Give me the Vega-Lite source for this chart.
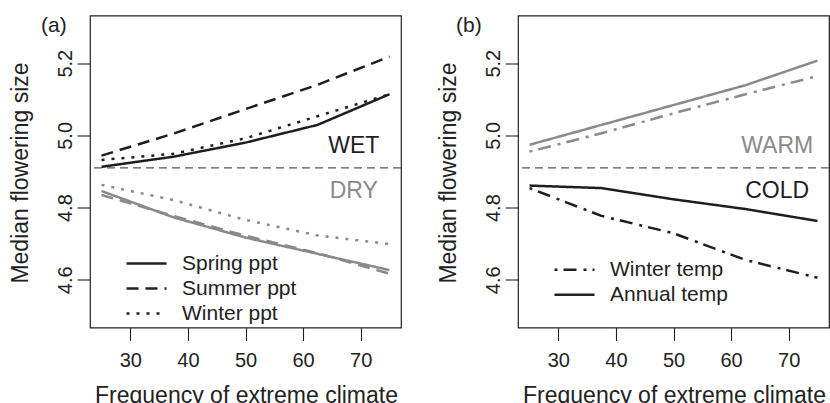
{
  "$schema": "https://vega.github.io/schema/vega-lite/v6.json",
  "padding": {"left": 8, "top": 13.5, "right": 0, "bottom": 0},
  "background": "white",
  "bounds": "flush",
  "spacing": 117,
  "config": {
    "font": "Liberation Sans",
    "view": {"stroke": "#222", "strokeWidth": 1.2},
    "axis": {
      "grid": false, "domain": false, "tickColor": "#222", "tickSize": 13, "tickWidth": 1.1,
      "labelFont": "Liberation Sans", "labelFontSize": 20, "labelColor": "#222",
      "titleFont": "Liberation Sans", "titleFontSize": 23, "titleFontWeight": "normal", "titleColor": "#222"
    },
    "legend": {
      "labelFont": "Liberation Sans", "labelFontSize": 21, "labelColor": "#222",
      "symbolType": "stroke", "symbolSize": 1600, "symbolStrokeWidth": 2.5, "symbolStrokeColor": "#222",
      "padding": 0, "offset": 0, "rowPadding": 0, "clipHeight": 25, "labelOffset": 14, "title": null
    },
    "title": {"font": "Liberation Sans", "fontSize": 21, "fontWeight": "normal", "color": "#222", "anchor": "start", "frame": "group", "baseline": "alphabetic", "offset": 0}
  },
  "resolve": {"scale": {"color": "independent", "strokeDash": "independent", "x": "independent", "y": "independent"}, "legend": {"strokeDash": "independent"}},
  "hconcat": [
    {
      "width": 311, "height": 312,
      "title": {"text": "(a)", "dx": -49, "dy": 24.5},
      "layer": [
        {
          "data": {"values": [{"ref": 4.91}]},
          "mark": {"type": "rule", "color": "#555", "strokeWidth": 1.3, "strokeDash": [8, 5]},
          "encoding": {"y": {"field": "ref", "type": "quantitative", "scale": {"domain": [4.468, 5.332], "nice": false, "zero": false}}}
        },
        {
          "data": {"values": [
            {"freq": 25, "size": 4.913, "variable": "Spring ppt", "climate": "WET"},
            {"freq": 37.5, "size": 4.941, "variable": "Spring ppt", "climate": "WET"},
            {"freq": 50, "size": 4.980, "variable": "Spring ppt", "climate": "WET"},
            {"freq": 62.5, "size": 5.029, "variable": "Spring ppt", "climate": "WET"},
            {"freq": 75, "size": 5.114, "variable": "Spring ppt", "climate": "WET"},
            {"freq": 25, "size": 4.944, "variable": "Summer ppt", "climate": "WET"},
            {"freq": 37.5, "size": 5.005, "variable": "Summer ppt", "climate": "WET"},
            {"freq": 50, "size": 5.073, "variable": "Summer ppt", "climate": "WET"},
            {"freq": 62.5, "size": 5.140, "variable": "Summer ppt", "climate": "WET"},
            {"freq": 75, "size": 5.218, "variable": "Summer ppt", "climate": "WET"},
            {"freq": 25, "size": 4.932, "variable": "Winter ppt", "climate": "WET"},
            {"freq": 37.5, "size": 4.949, "variable": "Winter ppt", "climate": "WET"},
            {"freq": 50, "size": 4.992, "variable": "Winter ppt", "climate": "WET"},
            {"freq": 62.5, "size": 5.053, "variable": "Winter ppt", "climate": "WET"},
            {"freq": 75, "size": 5.114, "variable": "Winter ppt", "climate": "WET"},
            {"freq": 25, "size": 4.846, "variable": "Spring ppt", "climate": "DRY"},
            {"freq": 37.5, "size": 4.773, "variable": "Spring ppt", "climate": "DRY"},
            {"freq": 50, "size": 4.717, "variable": "Spring ppt", "climate": "DRY"},
            {"freq": 62.5, "size": 4.672, "variable": "Spring ppt", "climate": "DRY"},
            {"freq": 75, "size": 4.627, "variable": "Spring ppt", "climate": "DRY"},
            {"freq": 25, "size": 4.835, "variable": "Summer ppt", "climate": "DRY"},
            {"freq": 37.5, "size": 4.777, "variable": "Summer ppt", "climate": "DRY"},
            {"freq": 50, "size": 4.722, "variable": "Summer ppt", "climate": "DRY"},
            {"freq": 62.5, "size": 4.674, "variable": "Summer ppt", "climate": "DRY"},
            {"freq": 75, "size": 4.617, "variable": "Summer ppt", "climate": "DRY"},
            {"freq": 25, "size": 4.863, "variable": "Winter ppt", "climate": "DRY"},
            {"freq": 37.5, "size": 4.821, "variable": "Winter ppt", "climate": "DRY"},
            {"freq": 50, "size": 4.766, "variable": "Winter ppt", "climate": "DRY"},
            {"freq": 62.5, "size": 4.723, "variable": "Winter ppt", "climate": "DRY"},
            {"freq": 75, "size": 4.699, "variable": "Winter ppt", "climate": "DRY"}
          ]},
          "mark": {"type": "line", "strokeWidth": 2.5, "strokeCap": "butt"},
          "encoding": {
            "x": {"field": "freq", "type": "quantitative", "scale": {"domain": [23, 77], "nice": false, "zero": false},
                  "axis": {"values": [30, 40, 50, 60, 70], "title": "Frequency of extreme climate", "labelPadding": 10, "titleX": 156, "titleY": 75, "titleBaseline": "alphabetic", "titleAnchor": "middle"}},
            "y": {"field": "size", "type": "quantitative", "scale": {"domain": [4.468, 5.332], "nice": false, "zero": false},
                  "axis": {"values": [4.6, 4.8, 5.0, 5.2], "format": ".1f", "labelAngle": 270, "labelAlign": "center", "labelBaseline": "alphabetic", "labelPadding": 6, "title": "Median flowering size", "titleAngle": 270, "titleX": -63, "titleY": 157, "titleBaseline": "alphabetic", "titleAlign": "center"}},
            "color": {"field": "climate", "type": "nominal", "scale": {"domain": ["WET", "DRY"], "range": ["#1e1e1e", "#8a8a8a"]}, "legend": null},
            "strokeDash": {"field": "variable", "type": "nominal", "scale": {"domain": ["Spring ppt", "Summer ppt", "Winter ppt"], "range": [[1, 0], [12, 7], [3, 7]]},
                           "legend": {"orient": "none", "legendX": 35, "legendY": 235.5}}
          }
        },
        {
          "data": {"values": [
            {"freq": 68.8, "size": 4.972, "climate": "WET"},
            {"freq": 68.8, "size": 4.845, "climate": "DRY"}
          ]},
          "mark": {"type": "text", "fontSize": 23, "align": "center", "baseline": "middle", "font": "Liberation Sans"},
          "encoding": {
            "x": {"field": "freq", "type": "quantitative"},
            "y": {"field": "size", "type": "quantitative"},
            "text": {"field": "climate", "type": "nominal"},
            "color": {"field": "climate", "type": "nominal", "legend": null}
          }
        }
      ]
    },
    {
      "width": 311, "height": 312,
      "title": {"text": "(b)", "dx": -62, "dy": 24.5},
      "layer": [
        {
          "data": {"values": [{"ref": 4.91}]},
          "mark": {"type": "rule", "color": "#555", "strokeWidth": 1.3, "strokeDash": [8, 5]},
          "encoding": {"y": {"field": "ref", "type": "quantitative", "scale": {"domain": [4.468, 5.332], "nice": false, "zero": false}}}
        },
        {
          "data": {"values": [
            {"freq": 25, "size": 4.974, "variable": "Annual temp", "climate": "WARM"},
            {"freq": 37.5, "size": 5.029, "variable": "Annual temp", "climate": "WARM"},
            {"freq": 50, "size": 5.084, "variable": "Annual temp", "climate": "WARM"},
            {"freq": 62.5, "size": 5.139, "variable": "Annual temp", "climate": "WARM"},
            {"freq": 75, "size": 5.207, "variable": "Annual temp", "climate": "WARM"},
            {"freq": 25, "size": 4.955, "variable": "Winter temp", "climate": "WARM"},
            {"freq": 37.5, "size": 5.006, "variable": "Winter temp", "climate": "WARM"},
            {"freq": 50, "size": 5.061, "variable": "Winter temp", "climate": "WARM"},
            {"freq": 62.5, "size": 5.114, "variable": "Winter temp", "climate": "WARM"},
            {"freq": 75, "size": 5.164, "variable": "Winter temp", "climate": "WARM"},
            {"freq": 25, "size": 4.861, "variable": "Annual temp", "climate": "COLD"},
            {"freq": 37.5, "size": 4.854, "variable": "Annual temp", "climate": "COLD"},
            {"freq": 50, "size": 4.823, "variable": "Annual temp", "climate": "COLD"},
            {"freq": 62.5, "size": 4.796, "variable": "Annual temp", "climate": "COLD"},
            {"freq": 75, "size": 4.763, "variable": "Annual temp", "climate": "COLD"},
            {"freq": 25, "size": 4.854, "variable": "Winter temp", "climate": "COLD"},
            {"freq": 37.5, "size": 4.777, "variable": "Winter temp", "climate": "COLD"},
            {"freq": 50, "size": 4.729, "variable": "Winter temp", "climate": "COLD"},
            {"freq": 62.5, "size": 4.655, "variable": "Winter temp", "climate": "COLD"},
            {"freq": 75, "size": 4.606, "variable": "Winter temp", "climate": "COLD"}
          ]},
          "mark": {"type": "line", "strokeWidth": 2.5, "strokeCap": "butt"},
          "encoding": {
            "x": {"field": "freq", "type": "quantitative", "scale": {"domain": [23, 77], "nice": false, "zero": false},
                  "axis": {"values": [30, 40, 50, 60, 70], "title": "Frequency of extreme climate", "labelPadding": 10, "titleX": 156, "titleY": 75, "titleBaseline": "alphabetic", "titleAnchor": "middle"}},
            "y": {"field": "size", "type": "quantitative", "scale": {"domain": [4.468, 5.332], "nice": false, "zero": false},
                  "axis": {"values": [4.6, 4.8, 5.0, 5.2], "format": ".1f", "labelAngle": 270, "labelAlign": "center", "labelBaseline": "alphabetic", "labelPadding": 6, "title": "Median flowering size", "titleAngle": 270, "titleX": -63, "titleY": 157, "titleBaseline": "alphabetic", "titleAlign": "center"}},
            "color": {"field": "climate", "type": "nominal", "scale": {"domain": ["COLD", "WARM"], "range": ["#1e1e1e", "#8a8a8a"]}, "legend": null},
            "strokeDash": {"field": "variable", "type": "nominal", "scale": {"domain": ["Winter temp", "Annual temp"], "range": [[3, 6, 13, 7], [1, 0]]},
                           "legend": {"orient": "none", "legendX": 35, "legendY": 241.8}}
          }
        },
        {
          "data": {"values": [
            {"freq": 68, "size": 4.972, "climate": "WARM"},
            {"freq": 68, "size": 4.845, "climate": "COLD"}
          ]},
          "mark": {"type": "text", "fontSize": 23, "align": "center", "baseline": "middle", "font": "Liberation Sans"},
          "encoding": {
            "x": {"field": "freq", "type": "quantitative"},
            "y": {"field": "size", "type": "quantitative"},
            "text": {"field": "climate", "type": "nominal"},
            "color": {"field": "climate", "type": "nominal", "legend": null}
          }
        }
      ]
    }
  ]
}
